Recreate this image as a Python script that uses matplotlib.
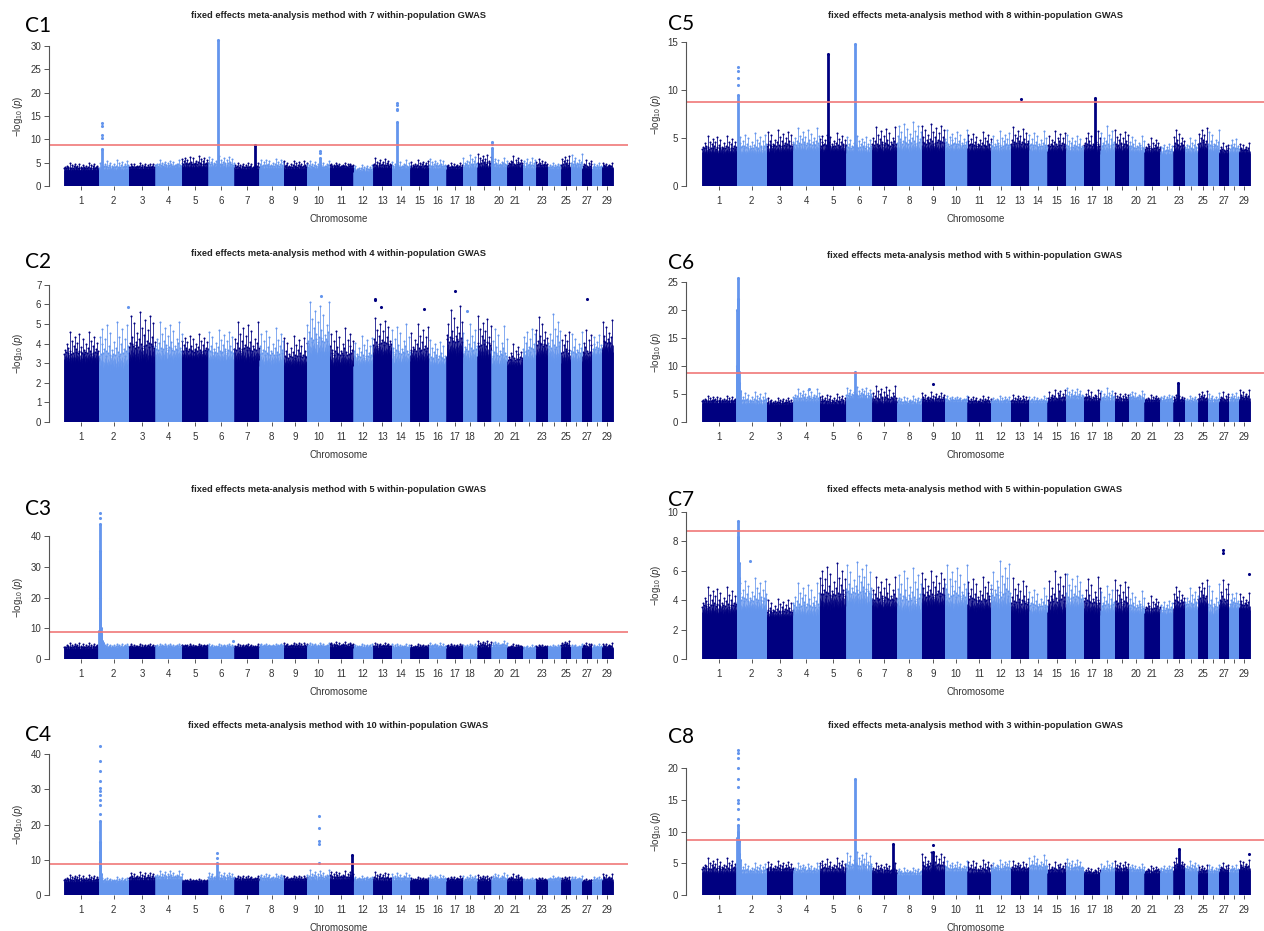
import numpy as np
import matplotlib.pyplot as plt

plt.rcParams['font.family'] = ['Liberation Sans', 'DejaVu Sans']
plt.rcParams['mathtext.fontset'] = 'custom'
plt.rcParams['mathtext.rm'] = 'Liberation Sans'
plt.rcParams['mathtext.it'] = 'Liberation Sans:italic'

# chromosome lengths (Mb), 29 autosomes
chrom_len = [158, 137, 121, 121, 121, 119, 113, 113, 105, 104, 107, 91, 84, 84, 85,
             81, 75, 66, 64, 72, 71, 61, 52, 62, 43, 52, 45, 46, 51]
chrom_labels = ['1', '2', '3', '4', '5', '6', '7', '8', '9', '10', '11', '12', '13', '14',
                '15', '16', '17', '18', '', '20', '21', '', '23', '', '25', '', '27', '', '29']
threshold = 8.7

# per chromosome: level of the dense part and top of the background cloud
# spikes: (chromosome, position within chromosome, top) ; dots: (chromosome, position, value)
c1_floor = [3.3, 3.3, 3.6, 3.8, 3.8, 3.8, 3.5, 3.6, 3.5, 3.6, 3.8, 3.0, 3.7, 3.5, 3.6,
            3.5, 3.6, 3.6, 3.8, 3.8, 3.8, 3.5, 3.8, 3.5, 3.6, 3.6, 3.5, 3.5, 3.8]
c1_peak = [4.9, 5.5, 4.9, 5.5, 6.5, 6.4, 5.0, 5.8, 5.4, 5.3, 5.0, 4.6, 5.9, 5.5, 5.5,
           5.8, 5.0, 6.7, 6.9, 6.0, 6.4, 6.1, 5.9, 5.0, 6.7, 6.8, 5.6, 5.0, 5.0]
c1_spikes = [(2, 0.10, 8.0), (6, 0.37, 31.3), (7, 0.85, 8.8), (10, 0.57, 6.0),
             (14, 0.30, 13.7), (20, 0.06, 8.2)]
c1_dots = [(2, 0.10, 10.2), (2, 0.10, 11.0), (2, 0.10, 12.8), (2, 0.10, 13.5),
           (10, 0.57, 7.0), (10, 0.57, 7.5), (14, 0.30, 16.2), (14, 0.30, 16.6),
           (14, 0.30, 17.4), (14, 0.30, 17.8), (20, 0.06, 9.0), (20, 0.06, 9.5)]

c2_floor = [3.0, 2.6, 3.0, 3.0, 3.2, 3.0, 3.0, 2.8, 2.8, 3.2, 2.8, 2.8, 3.3, 2.8, 3.0,
            2.8, 3.3, 3.0, 3.2, 2.7, 2.8, 3.0, 3.2, 3.0, 3.0, 3.0, 3.0, 3.3, 3.5]
c2_peak = [4.6, 5.1, 5.6, 5.1, 4.5, 4.7, 5.1, 4.8, 4.4, 6.1, 4.8, 4.4, 5.3, 5.0, 5.0,
           4.2, 5.9, 5.0, 5.4, 4.9, 4.0, 4.9, 5.5, 5.5, 4.7, 4.6, 4.7, 4.5, 5.2]
c2_spikes = []
c2_dots = [(2, 0.97, 5.85), (10, 0.6, 6.45), (13, 0.1, 6.3), (13, 0.1, 6.2),
           (13, 0.45, 5.85), (17, 0.55, 6.7), (27, 0.55, 6.3), (15, 0.75, 5.75),
           (18, 0.3, 5.65)]

c3_floor = [3.2, 3.5, 3.6, 3.6, 3.7, 3.6, 3.6, 3.7, 3.6, 3.7, 3.8, 3.5, 3.6, 3.4, 3.5,
            3.5, 3.6, 3.5, 3.6, 3.8, 3.5, 3.0, 3.4, 3.4, 3.8, 3.5, 3.5, 3.4, 3.6]
c3_peak = [5.2, 5.0, 4.8, 5.0, 4.8, 4.8, 4.8, 5.0, 5.3, 5.2, 5.5, 4.9, 5.2, 5.0, 4.8,
           5.2, 5.0, 5.0, 6.0, 5.8, 4.8, 4.5, 4.8, 4.6, 6.0, 4.8, 5.3, 4.9, 5.1]
c3_spikes = [(2, 0.02, 9.0), (2, 0.03, 25.0), (2, 0.04, 44.0), (2, 0.05, 35.0),
             (2, 0.06, 20.0), (2, 0.075, 10.0), (2, 0.09, 8.0), (2, 0.12, 6.0),
             (2, 0.16, 5.2)]
c3_dots = [(2, 0.04, 46.0), (2, 0.04, 47.5), (6, 0.95, 6.0)]

c4_floor = [3.6, 3.5, 4.0, 4.2, 3.6, 4.0, 4.0, 4.0, 4.0, 4.0, 4.2, 4.0, 3.8, 4.0, 4.0,
            4.0, 4.0, 3.8, 3.8, 4.0, 3.8, 3.8, 3.8, 4.0, 3.8, 4.0, 3.7, 3.7, 4.0]
c4_peak = [5.8, 5.0, 6.5, 6.9, 4.5, 6.5, 5.5, 6.0, 5.5, 7.0, 6.8, 5.3, 6.5, 6.3, 5.0,
           5.7, 5.3, 5.8, 5.6, 6.2, 6.0, 4.8, 5.0, 5.3, 5.3, 5.3, 4.5, 5.3, 6.0]
c4_spikes = [(2, 0.03, 10.0), (2, 0.04, 21.0), (2, 0.05, 15.0), (2, 0.06, 8.0),
             (2, 0.08, 6.0), (6, 0.33, 9.0), (11, 0.95, 11.5)]
c4_dots = [(2, 0.04, 23.0), (2, 0.04, 25.5), (2, 0.04, 27.0), (2, 0.04, 28.3),
           (2, 0.04, 29.5), (2, 0.04, 30.5), (2, 0.04, 32.3), (2, 0.04, 35.3),
           (2, 0.04, 38.0), (2, 0.04, 42.3), (6, 0.33, 10.5), (6, 0.33, 12.0),
           (10, 0.55, 9.2), (10, 0.55, 14.6), (10, 0.55, 15.2), (10, 0.55, 19.0),
           (10, 0.55, 22.4)]

c5_floor = [3.3, 3.2, 3.4, 3.5, 3.5, 3.4, 3.4, 3.4, 3.5, 3.5, 3.5, 3.4, 3.6, 3.4, 3.5,
            3.4, 3.5, 3.3, 3.5, 3.4, 3.4, 3.2, 3.4, 3.3, 3.6, 3.4, 3.3, 3.3, 3.4]
c5_peak = [5.2, 5.5, 5.8, 6.0, 5.5, 5.2, 6.1, 6.7, 6.5, 5.8, 5.6, 5.7, 6.1, 5.7, 5.7,
           5.3, 5.7, 6.2, 5.8, 5.2, 5.0, 4.5, 6.0, 5.0, 6.2, 5.8, 4.5, 5.0, 4.5]
c5_spikes = [(2, 0.05, 9.5), (5, 0.32, 13.8), (6, 0.33, 14.8), (17, 0.70, 9.2)]
c5_dots = [(2, 0.05, 10.5), (2, 0.05, 11.3), (2, 0.05, 12.0), (2, 0.05, 12.4),
           (13, 0.55, 9.1)]

c6_floor = [3.3, 3.0, 3.0, 3.4, 3.0, 4.0, 3.0, 3.0, 3.4, 3.5, 3.2, 3.3, 3.2, 3.3, 3.5,
            3.8, 3.5, 3.5, 3.5, 3.8, 3.5, 3.5, 3.5, 3.4, 3.5, 3.3, 3.4, 3.4, 3.7]
c6_peak = [4.6, 5.3, 4.3, 5.9, 5.0, 6.2, 6.5, 4.6, 5.3, 4.6, 4.6, 4.6, 4.8, 4.6, 5.8,
           6.1, 5.8, 6.0, 5.2, 5.5, 4.8, 4.9, 5.0, 4.6, 5.6, 5.1, 5.3, 5.3, 5.8]
c6_spikes = [(2, 0.02, 10.0), (2, 0.03, 20.0), (2, 0.036, 25.8), (2, 0.045, 22.0),
             (2, 0.055, 14.0), (2, 0.065, 9.0), (2, 0.08, 7.0), (2, 0.10, 5.6),
             (6, 0.35, 9.0), (23, 0.45, 7.0)]
c6_dots = [(9, 0.5, 6.7), (4, 0.6, 5.9)]

c7_floor = [3.0, 3.2, 2.8, 2.8, 3.3, 3.5, 3.3, 3.0, 3.5, 3.2, 3.2, 3.2, 3.0, 3.0, 3.0,
            3.3, 3.0, 3.0, 3.0, 3.0, 3.0, 3.0, 3.3, 3.2, 3.5, 2.8, 3.3, 3.3, 3.3]
c7_peak = [4.9, 5.5, 4.1, 5.2, 6.5, 6.6, 5.6, 6.2, 6.0, 6.4, 5.6, 6.7, 5.5, 4.8, 6.0,
           5.8, 5.6, 5.0, 5.4, 4.6, 4.3, 4.0, 5.0, 4.8, 5.5, 5.1, 5.4, 4.6, 4.5]
c7_spikes = [(2, 0.04, 9.4), (2, 0.05, 8.3), (2, 0.065, 6.5), (2, 0.08, 5.5)]
c7_dots = [(27, 0.4, 7.2), (27, 0.4, 7.4), (29, 0.9, 5.8), (2, 0.45, 6.7)]

c8_floor = [3.3, 3.2, 3.5, 3.3, 3.3, 3.5, 3.3, 3.0, 3.5, 3.5, 3.2, 3.6, 3.6, 3.6, 3.4,
            3.6, 3.2, 3.4, 3.5, 3.5, 3.3, 3.4, 3.8, 3.5, 3.3, 3.3, 3.5, 3.4, 3.8]
c8_peak = [5.8, 5.0, 5.3, 5.0, 5.8, 6.8, 5.0, 4.3, 6.7, 5.3, 5.5, 5.5, 5.3, 6.3, 5.2,
           5.6, 4.3, 5.3, 5.3, 4.9, 4.6, 4.7, 6.0, 5.3, 4.8, 4.8, 5.0, 4.8, 5.5]
c8_spikes = [(2, 0.02, 9.0), (2, 0.035, 11.0), (2, 0.05, 10.0), (2, 0.065, 8.5),
             (2, 0.08, 6.5), (2, 0.10, 5.5), (6, 0.33, 18.2), (7, 0.85, 8.0),
             (23, 0.55, 7.2), (9, 0.5, 6.7)]
c8_dots = [(2, 0.035, 12.0), (2, 0.035, 13.5), (2, 0.035, 14.5), (2, 0.035, 15.0),
           (2, 0.035, 17.0), (2, 0.035, 18.2), (2, 0.035, 20.0), (2, 0.035, 21.5),
           (2, 0.035, 22.3), (2, 0.035, 22.8), (9, 0.5, 7.9), (29, 0.9, 6.4)]

n_gwas = {'C1': 7, 'C2': 4, 'C3': 5, 'C4': 10, 'C5': 8, 'C6': 5, 'C7': 5, 'C8': 3}

# style: ragged top of the dense point cloud (fraction of floor->peak band)
fuzz = [0.12, 0.30, 0.05, 0.18, 0.42, 0.08, 0.22, 0.02, 0.35, 0.15, 0.27, 0.06, 0.60,
        0.10, 0.20, 0.04, 0.32, 0.14, 0.25, 0.09, 0.48, 0.03, 0.17, 0.28, 0.07, 1.00,
        0.13, 0.24, 0.05, 0.38, 0.11, 0.21, 0.01, 0.30, 0.16, 0.70, 0.08, 0.26, 0.12,
        0.19, 0.04, 0.34, 0.10, 0.23, 0.55, 0.06, 0.29, 0.15, 0.85, 0.09, 0.20, 0.03,
        0.36, 0.18, 0.07, 0.44, 0.13, 0.02, 0.27, 0.09, 0.66, 0.16, 0.05, 0.31, 0.11,
        0.22, 0.40, 0.04, 0.19, 0.14, 0.93, 0.08, 0.25, 0.12, 0.03, 0.37, 0.17, 0.52,
        0.06, 0.21, 0.10, 0.33, 0.15, 0.01, 0.78, 0.24, 0.09, 0.28, 0.14]

dark = '#000080'
light = '#6495ED'
W, H = 1264, 931

starts = np.concatenate([[0], np.cumsum(chrom_len)[:-1]])
centers = starts + np.array(chrom_len) / 2.0
L = float(sum(chrom_len))

fig = plt.figure(figsize=(W / 100, H / 100), dpi=100)

# layout in pixels: (column, y of zero, px per unit, ylim top, tick step, max tick)
panels = {
    'C1': (0, 186, 4.667, 32.0, 5, 30, c1_floor, c1_peak, c1_spikes, c1_dots),
    'C2': (0, 422, 19.6, 7.2, 1, 7, c2_floor, c2_peak, c2_spikes, c2_dots),
    'C3': (0, 659, 3.075, 48.5, 10, 40, c3_floor, c3_peak, c3_spikes, c3_dots),
    'C4': (0, 895, 3.52, 43.0, 10, 40, c4_floor, c4_peak, c4_spikes, c4_dots),
    'C5': (1, 186, 9.6, 15.5, 5, 15, c5_floor, c5_peak, c5_spikes, c5_dots),
    'C6': (1, 422, 5.6, 26.5, 5, 25, c6_floor, c6_peak, c6_spikes, c6_dots),
    'C7': (1, 659, 14.7, 10.2, 2, 10, c7_floor, c7_peak, c7_spikes, c7_dots),
    'C8': (1, 895, 6.35, 23.5, 5, 20, c8_floor, c8_peak, c8_spikes, c8_dots),
}
# axes left/right and data left/right (px) per column
cols = [(49, 628, 64, 613), (686, 1264, 702, 1250)]
ylab_x = [25, 663]
title_y = {'C1': 16, 'C2': 254, 'C3': 489, 'C4': 725,
           'C5': 16, 'C6': 255, 'C7': 489, 'C8': 726}
label_y = {'C1': 26, 'C2': 262, 'C3': 509, 'C4': 735,
           'C5': 24, 'C6': 263, 'C7': 500, 'C8': 737}
label_x = [25, 668]

for name, (col, y0, ppu, ytop, step, tmax, floor, peak, spikes, dots) in panels.items():
    al, ar, dl, dr = cols[col]
    top_px = y0 - ytop * ppu
    ax = fig.add_axes([al / W, 1 - y0 / H, (ar - al) / W, (y0 - top_px) / H])
    scale = (dr - dl) / L
    ax.set_xlim(-(dl - al) / scale, L + (ar - dr) / scale)
    ax.set_ylim(0, ytop)

    # background point cloud per chromosome
    for c in range(29):
        color = dark if c % 2 == 0 else light
        xs = starts[c] + np.arange(0.5, chrom_len[c], 1.0)
        f = np.array([fuzz[(i + c * 31) % len(fuzz)] for i in range(len(xs))])
        h = floor[c] + f * (peak[c] - floor[c])
        ax.vlines(xs, 0, h, color=color, lw=0.55)
        hi = f >= 0.3
        ax.scatter(xs[hi], h[hi], s=2.2, color=color, lw=0)

    # association peaks
    for chrom, pos, top in spikes:
        color = dark if chrom % 2 == 1 else light
        x = starts[chrom - 1] + pos * chrom_len[chrom - 1]
        ax.vlines(x, 0, top, color=color, lw=2.0)
        ax.scatter([x], [top], s=5, color=color, lw=0)
    for chrom, pos, val in dots:
        color = dark if chrom % 2 == 1 else light
        x = starts[chrom - 1] + pos * chrom_len[chrom - 1]
        ax.scatter([x], [val], s=5, color=color, lw=0)

    ax.axhline(threshold, color='#f07878', lw=1.2)

    for s in ['top', 'right', 'bottom']:
        ax.spines[s].set_visible(False)
    ax.spines['left'].set_bounds(0, tmax)
    ax.spines['left'].set_color('#555555')
    ax.spines['left'].set_linewidth(0.8)
    ax.set_yticks(np.arange(0, tmax + 0.1, step))
    ax.set_xticks(centers)
    ax.set_xticklabels(chrom_labels)
    ax.tick_params(axis='y', length=3.5, width=0.7, color='#555555', labelsize=7,
                   labelcolor='#333333', pad=2)
    ax.tick_params(axis='x', length=3, width=0.7, color='#555555', labelsize=7,
                   labelcolor='#333333', pad=4)
    ax.set_ylabel(r'$-\log_{10}(p)$', fontsize=7, color='#333333')
    ax.yaxis.set_label_coords((ylab_x[col] - al) / (ar - al), (tmax / 2) / ytop)

    fig.text((dl + dr) / 2 / W, 1 - (y0 + 33) / H, 'Chromosome', fontsize=7,
             color='#333333', ha='center', va='center')
    fig.text((al + ar) / 2 / W, 1 - title_y[name] / H,
             'fixed effects meta-analysis method with %d within-population GWAS' % n_gwas[name],
             fontsize=6.7, fontweight='bold', color='#222222', ha='center', va='center')
    fig.text(label_x[col] / W, 1 - label_y[name] / H, name, fontsize=15,
             family=['Lato', 'DejaVu Sans'], color='black', ha='left', va='center')

fig.savefig('out.png', dpi=100)
